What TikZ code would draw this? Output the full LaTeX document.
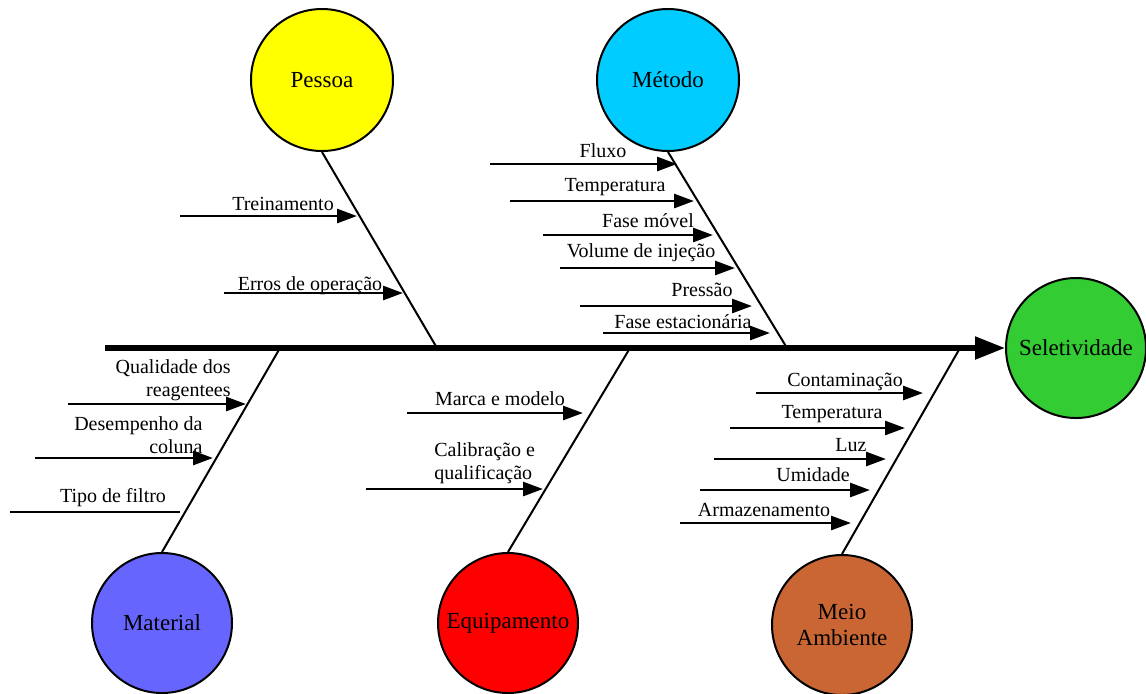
\documentclass[tikz,border=0pt]{standalone}
\usepackage{fontspec}
\setmainfont{Liberation Serif}
\usepackage{xcolor}
\usetikzlibrary{arrows.meta,positioning,calc}
\definecolor{Yellow}{HTML}{FFFF00}
\definecolor{SkyBlue}{HTML}{00CCFF}
\definecolor{Green}{HTML}{33CC33}
\definecolor{Violet}{HTML}{6666FF}
\definecolor{Red}{HTML}{FF0000}
\definecolor{Brown}{HTML}{C96633}
\tikzset{
  cat/.style={circle,draw=black,line width=1pt,minimum size=71pt,inner sep=0pt,
              align=center,font=\fontsize{11.5}{13}\selectfont},
  spine/.style={line width=2.6pt,-{Triangle[length=15pt,width=11pt]}},
  bone/.style={line width=1pt},
  cause/.style={line width=1.4pt,-{Triangle[length=10pt,width=7pt]}},
  plain/.style={line width=1.4pt},
  lbl/.style={inner sep=0pt,font=\fontsize{10}{11.5}\selectfont}
}
\begin{document}
\begin{tikzpicture}[x=0.5pt,y=-0.5pt]
  \useasboundingbox (0,0) rectangle (1146,693);
  % categories
  \node[cat,fill=Green,minimum size=70pt] (efeito) at (1076,348) {Seletividade};
  \node[cat,fill=Yellow] (pessoa) at (322,80) {Pessoa};
  \node[cat,fill=SkyBlue] (metodo) at (668,80) {Método};
  \node[cat,fill=Violet,minimum size=70pt] (material) at (162,623) {Material};
  \node[cat,fill=Red,minimum size=70pt] (equip) at (508,623) {Equipamento};
  \node[cat,fill=Brown,minimum size=70pt] (meio) at (842,625) {Meio\\Ambiente};
  % spine
  \coordinate (cauda) at (105,348);
  \coordinate (jp) at (437,348);
  \coordinate (jm) at (787,348);
  \coordinate (jma) at (280,348);
  \coordinate (je) at (630,348);
  \coordinate (ja) at (960,348);
  \draw[spine] (cauda) -- (efeito.west);
  \draw[bone] (pessoa.south) -- (jp);
  \draw[bone] (metodo.south) -- (jm);
  \draw[bone] (material.north) -- (jma);
  \draw[bone] (equip.north) -- (je);
  \draw[bone] (meio.north) -- (ja);
  % causes, one line each
  \foreach \n/\xa/\xb/\y/\xt/\yt/\txt in {
      trein/180/357/216/283/204/Treinamento,
      erros/224/403/293/310/286/Erros de operação,
      fluxo/490/677/164/603/151/Fluxo,
      tempm/510/694/201/615/187/Temperatura,
      movel/543/713/235/648/221/Fase móvel,
      volume/560/735/268/641/253/Volume de injeção,
      pressao/580/752/306/702/290/Pressão,
      estac/603/770/333/683/322/Fase estacionária,
      marca/407/583/413/500/399/Marca e modelo,
      contam/756/923/393/845/382/Contaminação,
      tempa/730/905/428/832/414/Temperatura,
      luz/714/886/459/851/445/Luz,
      umid/700/870/490/813/475/Umidade,
      armaz/680/851/523/764/510/Armazenamento}{
    \coordinate (\n-s) at (\xa,\y);
    \coordinate (\n-e) at (\xb,\y);
    \draw[cause] (\n-s) -- (\n-e);
    \node[lbl] (\n-t) at (\xt,\yt) {\txt};
  }
  % causes over two lines
  \coordinate (quali-s) at (68,404);
  \coordinate (quali-e) at (246,404);
  \draw[cause] (quali-s) -- (quali-e);
  \node[lbl,align=right,anchor=east] (quali-t) at (231,380) {Qualidade dos\\reagentees};
  \coordinate (desemp-s) at (35,458);
  \coordinate (desemp-e) at (213,458);
  \draw[cause] (desemp-s) -- (desemp-e);
  \node[lbl,align=right,anchor=east] (desemp-t) at (203,435) {Desempenho da\\coluna};
  \coordinate (filtro-s) at (10,512);
  \coordinate (filtro-e) at (180,512);
  \draw[plain] (filtro-s) -- (filtro-e);
  \node[lbl] (filtro-t) at (113,498) {Tipo de filtro};
  \coordinate (calib-s) at (366,489);
  \coordinate (calib-e) at (543,489);
  \draw[cause] (calib-s) -- (calib-e);
  \node[lbl,align=left,anchor=west] (calib-t) at (434,463) {Calibração e\\qualificação};
\end{tikzpicture}
\end{document}
